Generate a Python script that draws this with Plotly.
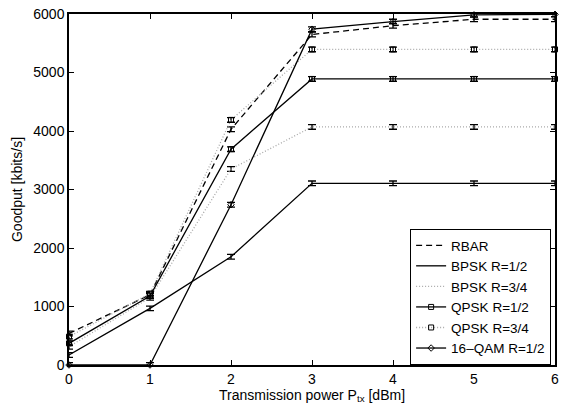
import plotly.graph_objects as go

x = [0, 1, 2, 3, 4, 5, 6]
rbar = [540, 1200, 4030, 5650, 5800, 5910, 5910]
bpsk12 = [170, 968, 1850, 3105, 3105, 3105, 3105]
bpsk34 = [313, 1150, 3350, 4070, 4070, 4070, 4070]
qpsk12 = [370, 1180, 3690, 4890, 4890, 4890, 4890]
qpsk34 = [485, 1220, 4190, 5395, 5395, 5395, 5395]
qam16 = [0, 0, 2740, 5740, 5870, 5985, 5995]
err = [40, 40, 40, 40, 40, 40, 40]

series = [
    ("RBAR", rbar, dict(color="black", width=1.3, dash="6px,4px"), None),
    ("BPSK R=1/2", bpsk12, dict(color="black", width=1.3), None),
    ("BPSK R=3/4", bpsk34, dict(color="#a8a8a8", width=1.3, dash="1px,2px"), None),
    ("QPSK R=1/2", qpsk12, dict(color="black", width=1.3), "square-open"),
    ("QPSK R=3/4", qpsk34, dict(color="#a8a8a8", width=1.3, dash="1px,2px"), "square-open"),
    ("16\u2013QAM R=1/2", qam16, dict(color="black", width=1.3), "diamond-open"),
]

fig = go.Figure()
for name, vals, line, sym in series:
    fig.add_trace(go.Scatter(
        x=x, y=vals, name=name,
        mode="lines+markers" if sym else "lines",
        line=line,
        marker=dict(symbol=sym or "circle", size=5, color="black",
                    line=dict(color="black", width=1)),
        error_y=dict(type="data", array=err, visible=True, color="black",
                     thickness=1.3, width=4),
        cliponaxis=False,
    ))

font = dict(family="Liberation Sans, Arial, sans-serif", size=14, color="black")
axis_common = dict(showline=True, linecolor="black", linewidth=1.5, mirror="ticks",
                   ticks="inside", ticklen=5, tickcolor="black", tickwidth=1,
                   showgrid=False, zeroline=False, tickfont=font,
                   ticklabeloverflow="allow")

fig.update_layout(
    width=563, height=406,
    margin=dict(l=69, r=4, t=14, b=41),
    paper_bgcolor="white", plot_bgcolor="white",
    font=font,
    showlegend=True,
    legend=dict(x=0.992, y=0.0, xanchor="right", yanchor="bottom",
                bgcolor="white", bordercolor="black", borderwidth=1,
                font=dict(family="Liberation Sans, Arial, sans-serif", size=13.5, color="black"),
                itemwidth=30, tracegroupgap=0),
    xaxis=dict(range=[0, 6], tickvals=[0, 1, 2, 3, 4, 5, 6],
               title=dict(text="Transmission power P<sub>tx</sub> [dBm]", font=font, standoff=2),
               **axis_common),
    yaxis=dict(range=[0, 6000], tickvals=[0, 1000, 2000, 3000, 4000, 5000, 6000],
               title=dict(text="Goodput [kbits/s]", font=font, standoff=7),
               **axis_common),
)

fig.write_html("out.html", config={"displayModeBar": False},
               post_script="document.body.style.margin='0';document.body.style.padding='0';")
